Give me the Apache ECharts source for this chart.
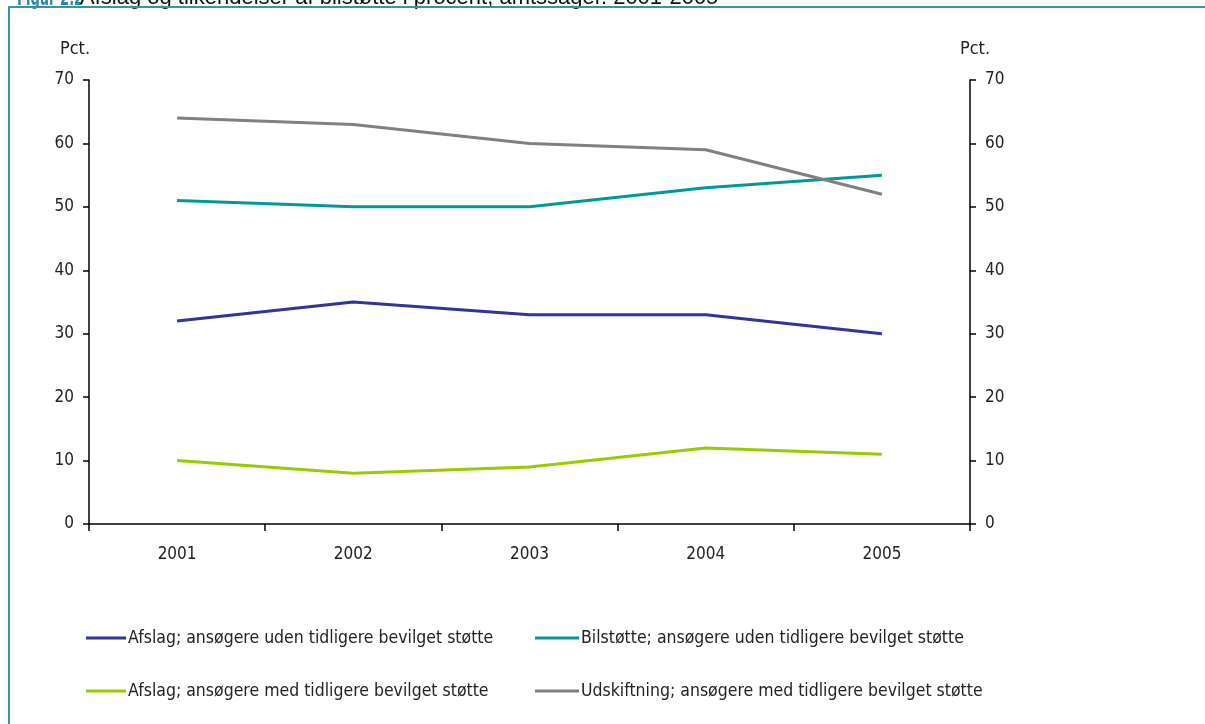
<!DOCTYPE html>
<html>
<head>
<meta charset="utf-8">
<script src="https://cdn.jsdelivr.net/npm/echarts@6/dist/echarts.min.js"></script>
<style>
html,body{margin:0;padding:0;background:#fff;}
#main{width:1205px;height:724px;}
</style>
</head>
<body>
<div id="main"></div>
<script>
const categories = ['2001', '2002', '2003', '2004', '2005'];
const seriesNames = [
  'Afslag; ansøgere uden tidligere bevilget støtte',
  'Bilstøtte; ansøgere uden tidligere bevilget støtte',
  'Afslag; ansøgere med tidligere bevilget støtte',
  'Udskiftning; ansøgere med tidligere bevilget støtte'
];
const afslagUden = [32, 35, 33, 33, 30];
const bilstotteUden = [51, 50, 50, 53, 55];
const afslagMed = [10, 8, 9, 12, 11];
const udskiftningMed = [64, 63, 60, 59, 52];
const seriesColors = ['#333399', '#009999', '#99CC00', '#808080'];
const titleBold = 'Figur 2.2';
const titleRest = 'Afslag og tilkendelser af bilstøtte i procent, amtssager. 2001-2005';

const FONT = '"Liberation Sans Narrow", "DejaVu Sans Condensed", sans-serif';
const chart = echarts.init(document.getElementById('main'), null, {renderer: 'canvas'});

const values = [afslagUden, bilstotteUden, afslagMed, udskiftningMed];

const yAxisCommon = {
  type: 'value', min: 0, max: 70, interval: 10,
  name: 'Pct.', nameLocation: 'end', nameGap: 22,
  axisLine: {show: true, lineStyle: {color: '#000', width: 1.5}},
  axisTick: {show: true, inside: false, length: 6, lineStyle: {color: '#000', width: 1.5}},
  splitLine: {show: false},
  axisLabel: {color: '#222', fontFamily: FONT, fontSize: 17, margin: 15}
};

const legendText = {fontFamily: FONT, fontSize: 17.5, color: '#222', padding: [0, 0, 0, -3]};

const option = {
  backgroundColor: '#fff',
  animation: false,
  grid: {left: 89, right: 235, top: 80, bottom: 200},
  graphic: [
    {type: 'text', x: 17, y: 10, z: 1, scaleX: 0.66, style: {text: titleBold, fill: '#2E86A8', font: 'bold 22px "DejaVu Sans Condensed", sans-serif', textVerticalAlign: 'bottom'}},
    {type: 'text', x: 80, y: 9, z: 1, style: {text: titleRest, fill: '#111', font: '22px "Liberation Sans", Arial, sans-serif', textVerticalAlign: 'bottom'}},
    {type: 'rect', z: 2, shape: {x: 9, y: 7, width: 1300, height: 800}, style: {fill: 'none', stroke: '#3F8FA5', lineWidth: 2}}
  ],
  legend: [
    {
      data: [seriesNames[0], seriesNames[2]],
      orient: 'vertical', left: 86, top: 629, itemGap: 35, padding: 0,
      itemWidth: 40, itemHeight: 3, icon: 'rect',
      textStyle: legendText
    },
    {
      data: [seriesNames[1], seriesNames[3]],
      orient: 'vertical', left: 535, top: 629, itemGap: 35, padding: 0,
      itemWidth: 44, itemHeight: 3, icon: 'rect',
      textStyle: legendText
    }
  ],
  xAxis: {
    type: 'category', data: categories, boundaryGap: true,
    axisLine: {show: true, lineStyle: {color: '#000', width: 1.5}},
    axisTick: {show: true, length: 7, alignWithLabel: false, lineStyle: {color: '#000', width: 1.5}},
    axisLabel: {color: '#222', fontFamily: FONT, fontSize: 17, margin: 22}
  },
  yAxis: [
    Object.assign({}, yAxisCommon, {position: 'left', nameTextStyle: {color: '#222', fontFamily: FONT, fontSize: 18, padding: [0, 28, 0, 0]}}),
    Object.assign({}, yAxisCommon, {position: 'right', nameTextStyle: {color: '#222', fontFamily: FONT, fontSize: 18, padding: [0, 0, 0, 10]}})
  ],
  series: seriesNames.map((n, i) => ({
    name: n, type: 'line', yAxisIndex: 0, data: values[i],
    symbol: 'none', showSymbol: false,
    lineStyle: {color: seriesColors[i], width: 3},
    itemStyle: {color: seriesColors[i]}
  }))
};
chart.setOption(option);
</script>
</body>
</html>
